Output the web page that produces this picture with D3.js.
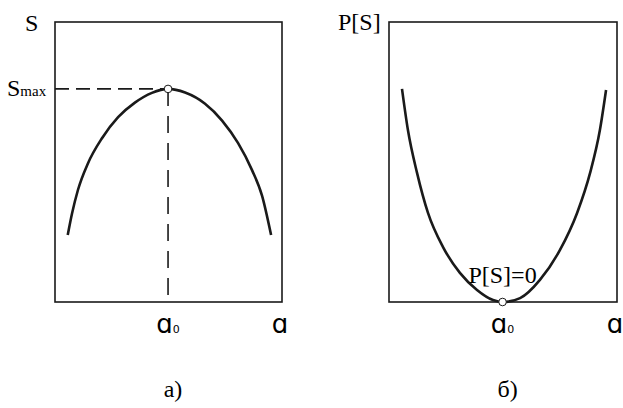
<!DOCTYPE html>
<html>
<head>
<meta charset="utf-8">
<script src="https://cdn.jsdelivr.net/npm/d3@7"></script>
<style>
  body { margin: 0; background: #fff; }
  svg { display: block; }
</style>
</head>
<body>
<div id="chart"></div>
<script>
// curve a): S versus a
var aS = [0.56, 0.75, 1.01, 1.45, 2.07, 2.78, 3.52, 4.27, 4.98, 5.73, 6.61, 7.36, 8.06, 8.68, 9.12, 9.52];
var sVals = [2.39, 3.16, 4.0, 4.95, 5.85, 6.6, 7.12, 7.47, 7.61, 7.48, 7.08, 6.48, 5.68, 4.71, 3.8, 2.39];

// curve б): P[S] versus a
var aP = [0.57, 0.83, 1.23, 1.71, 2.37, 3.11, 3.86, 4.56, 5.0, 5.75, 6.62, 7.5, 8.25, 8.82, 9.25, 9.52];
var pVals = [7.61, 6.14, 4.61, 3.18, 1.96, 1.04, 0.43, 0.07, 0, 0.14, 0.79, 1.86, 3.18, 4.61, 6.14, 7.57];

var a0 = 4.98, sMax = 7.61;
var panelLabels = ["а)", "б)"];

var width = 623, height = 408;
var svg = d3.select("#chart").append("svg")
    .attr("width", width)
    .attr("height", height);

var serif = "'Liberation Serif', 'Times New Roman', serif";
var sans = "'DejaVu Sans', sans-serif";

function panel(x0, x1, xs, ys, idx) {
  var x = d3.scaleLinear().domain([0, 10]).range([x0, x1]);
  var y = d3.scaleLinear().domain([0, 10]).range([302, 22]);
  var g = svg.append("g");

  g.append("rect")
    .attr("x", x(0)).attr("y", y(10))
    .attr("width", x(10) - x(0)).attr("height", y(0) - y(10))
    .attr("fill", "none").attr("stroke", "#1a1a1a").attr("stroke-width", 1.6);

  var line = d3.line()
    .x(function(d) { return x(d[0]); })
    .y(function(d) { return y(d[1]); })
    .curve(d3.curveMonotoneX);

  g.append("path")
    .datum(d3.zip(xs, ys))
    .attr("d", line)
    .attr("fill", "none").attr("stroke", "#1a1a1a").attr("stroke-width", 2.6);

  // axis captions under the box
  var a0t = g.append("text")
    .attr("x", x(a0)).attr("y", 333)
    .attr("text-anchor", "middle")
    .style("font-family", sans).style("font-size", "26px");
  a0t.append("tspan").text("ɑ");
  a0t.append("tspan").text("0").style("font-size", "11px");

  g.append("text")
    .attr("x", x(10) - 2).attr("y", 333)
    .attr("text-anchor", "middle")
    .style("font-family", sans).style("font-size", "26px")
    .text("ɑ");

  g.append("text")
    .attr("x", x(a0) + 5).attr("y", 397)
    .attr("text-anchor", "middle")
    .style("font-family", serif).style("font-size", "24px")
    .text(panelLabels[idx]);

  return {g: g, x: x, y: y};
}

// panel a)
var pa = panel(55, 282, aS, sVals, 0);
pa.g.append("line")
  .attr("x1", pa.x(0)).attr("x2", pa.x(a0))
  .attr("y1", pa.y(sMax)).attr("y2", pa.y(sMax))
  .attr("stroke", "#1a1a1a").attr("stroke-width", 1.6).attr("stroke-dasharray", "14,7");
pa.g.append("line")
  .attr("x1", pa.x(a0)).attr("x2", pa.x(a0))
  .attr("y1", pa.y(sMax)).attr("y2", pa.y(0.2))
  .attr("stroke", "#1a1a1a").attr("stroke-width", 1.6).attr("stroke-dasharray", "17,10");
pa.g.append("circle")
  .attr("cx", pa.x(a0)).attr("cy", pa.y(sMax)).attr("r", 3.8)
  .attr("fill", "#fff").attr("stroke", "#1a1a1a").attr("stroke-width", 1);
pa.g.append("text")
  .attr("x", 25).attr("y", 31)
  .style("font-family", serif).style("font-size", "24px")
  .text("S");
var smx = pa.g.append("text")
  .attr("x", 7).attr("y", 96)
  .style("font-family", serif).style("font-size", "24px");
smx.append("tspan").text("S");
smx.append("tspan").text("max").style("font-size", "15px");

// panel б)
var pb = panel(389, 617, aP, pVals, 1);
pb.g.append("circle")
  .attr("cx", pb.x(a0)).attr("cy", pb.y(0)).attr("r", 3.8)
  .attr("fill", "#fff").attr("stroke", "#1a1a1a").attr("stroke-width", 1);
pb.g.append("text")
  .attr("x", 338).attr("y", 30)
  .style("font-family", serif).style("font-size", "24px")
  .text("P[S]");
pb.g.append("text")
  .attr("x", pb.x(a0)).attr("y", 283)
  .attr("text-anchor", "middle")
  .style("font-family", serif).style("font-size", "24px")
  .text("P[S]=0");
</script>
</body>
</html>
